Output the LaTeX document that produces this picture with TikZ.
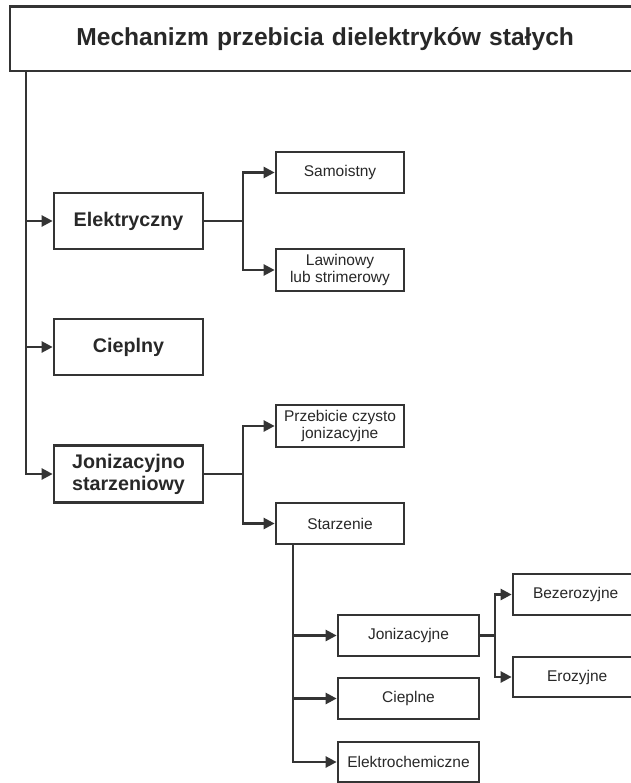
\documentclass[tikz,border=0pt]{standalone}
\usepackage{fontspec}
\setmainfont{Liberation Sans}
\usetikzlibrary{arrows.meta}
\definecolor{ln}{RGB}{52,52,52}
\definecolor{tx}{RGB}{40,40,40}
\begin{document}
\begin{tikzpicture}[x=1pt,y=-1pt,
  box/.style={draw=ln,line width=2.7pt,rectangle,inner sep=1pt,align=center,text=tx},
  bigbox/.style={box,minimum width=149pt,minimum height=56pt,font=\bfseries\fontsize{19.7}{22}\selectfont},
  smallbox/.style={box,minimum width=128pt,minimum height=41pt,font=\fontsize{15.5}{16.5}\selectfont},
  midbox/.style={box,minimum width=141pt,minimum height=41pt,font=\fontsize{15.5}{16.5}\selectfont},
  edgebox/.style={box,minimum width=140pt,font=\fontsize{15.5}{16.5}\selectfont,text width=100pt,align=left,inner xsep=6pt},
  conn/.style={draw=ln,line width=2.4pt},
  arr/.style={conn,-{Triangle[length=11pt,width=11pt]}}]
\useasboundingbox (0,0) rectangle (630,783);
\fill[white] (0,0) rectangle (630,783);
% title
\node[box,anchor=west,inner xsep=66.5pt,inner ysep=0pt,text width=560pt,align=left,minimum height=64.5pt,
  font=\bfseries\fontsize{24.6}{28}\selectfont] (title) at (8.5,38.75) {\raisebox{-1.5pt}{Mechanizm przebicia dielektryków stałych}};
% level 1
\node[bigbox] (el) at (128.5,221) {Elektryczny};
\node[bigbox] (cp) at (128.5,347) {Cieplny};
\node[bigbox,minimum height=57pt] (js) at (128.5,474) {Jonizacyjno\\starzeniowy};
% level 2
\node[smallbox] (sa) at (340,172.5) {Samoistny};
\node[smallbox,minimum height=42pt] (la) at (340,270) {Lawinowy\\lub strimerowy};
\node[smallbox,minimum height=42pt] (pc) at (340,426) {Przebicie czysto\\jonizacyjne};
\node[smallbox] (st) at (340,523.5) {Starzenie};
% level 3
\node[midbox] (jo) at (408.5,635.5) {Jonizacyjne};
\node[midbox] (cq) at (408.5,698.5) {Cieplne};
\node[midbox,minimum height=40pt] (ec) at (408.5,762) {Elektrochemiczne};
% level 4
\node[edgebox,minimum height=41pt] (bz) at (583,594.5) {Bezerozyjne};
\node[edgebox,minimum height=40pt] (er) at (583,677) {\hspace*{14pt}Erozyjne};
% branch x positions
\coordinate (mx) at (26,0);
\coordinate (bx) at (243,0);
\coordinate (sx) at (293,0);
\coordinate (jx) at (495,0);
% trunk
\draw[arr] (mx |- title.south) |- (js.west);
\draw[arr] (mx |- el.west) -- (el.west);
\draw[arr] (mx |- cp.west) -- (cp.west);
% Elektryczny branch
\draw[conn] (el.east) -- (bx |- el.east);
\draw[arr] (bx |- el.east) |- (sa.west);
\draw[arr] (bx |- el.east) |- (la.west);
% Jonizacyjno branch
\draw[conn] (js.east) -- (bx |- js.east);
\draw[arr] (bx |- js.east) |- (pc.west);
\draw[arr] (bx |- js.east) |- (st.west);
% Starzenie branch
\draw[arr] (sx |- st.south) |- (ec.west);
\draw[arr] (sx |- jo.west) -- (jo.west);
\draw[arr] (sx |- cq.west) -- (cq.west);
% Jonizacyjne branch
\draw[conn] (jo.east) -- (jx |- jo.east);
\draw[arr] (jx |- jo.east) |- (bz.west);
\draw[arr] (jx |- jo.east) |- (er.west);
\end{tikzpicture}
\end{document}
